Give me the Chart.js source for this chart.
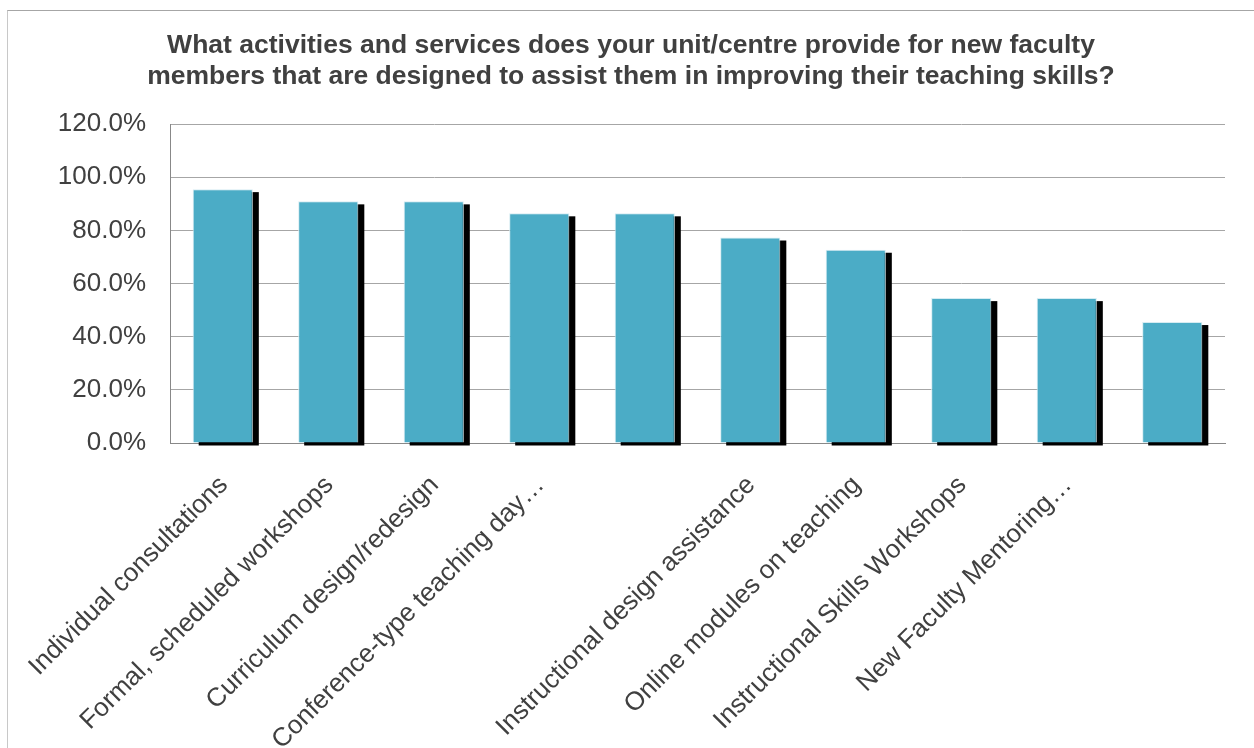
<!DOCTYPE html>
<html>
<head>
<meta charset="utf-8">
<script src="https://cdn.jsdelivr.net/npm/chart.js@4.4.1/dist/chart.umd.min.js"></script>
<style>
	html, body { margin: 0; padding: 0; background: #fff; }
	#frame { position: absolute; left: 7px; top: 10px; width: 1300px; height: 800px; border-top: 1px solid #a6a6a6; border-left: 1px solid #c8c8c8; }
	#wrap { position: absolute; left: 0; top: 0; width: 1254px; height: 748px; }
</style>
</head>
<body>
<div id="frame"></div>
<div id="wrap"><canvas id="activitiesChart"></canvas></div>
<script>
// categories as shown on the axis (two bars carry no visible label)
const categories = [
	'Individual consultations',
	'Formal, scheduled workshops',
	'Curriculum design/redesign',
	'Conference-type teaching day\u2026',
	'',
	'Instructional design assistance',
	'Online modules on teaching',
	'Instructional Skills Workshops',
	'New Faculty Mentoring\u2026',
	''
];
// share of units (%)
const percentages = [95.5, 90.9, 90.9, 86.4, 86.4, 77.3, 72.7, 54.5, 54.5, 45.5];
const yTicks = [0, 20, 40, 60, 80, 100, 120];
const titleLines = [
	'What activities and services does your unit/centre provide for new faculty',
	'members that are designed to assist them in improving their teaching skills?'
];

const FONT = '"Liberation Sans", Arial, sans-serif';

// black offset shadow behind every bar, as in the original
const barShadow = {
	id: 'barShadow',
	beforeDatasetsDraw(chart) {
		const ctx = chart.ctx;
		const meta = chart.getDatasetMeta(0);
		ctx.save();
		ctx.fillStyle = '#000';
		meta.data.forEach(bar => {
			const p = bar.getProps(['x', 'y', 'base', 'width'], true);
			ctx.fillRect(p.x - p.width / 2 + 6, p.y + 3, p.width, p.base - p.y);
		});
		ctx.restore();
	}
};

new Chart(document.getElementById('activitiesChart'), {
	type: 'bar',
	data: {
		labels: categories,
		datasets: [{
			data: percentages,
			backgroundColor: '#4BACC6',
			borderColor: '#d6ecf2',
			borderWidth: 1,
			categoryPercentage: 1,
			barPercentage: 0.57
		}]
	},
	options: {
		responsive: true,
		maintainAspectRatio: false,
		animation: false,
		layout: { padding: { left: 8, right: 0, top: 0, bottom: 0 } },
		plugins: {
			legend: { display: false },
			tooltip: { enabled: false },
			title: {
				display: true,
				text: titleLines,
				color: '#404040',
				font: { family: FONT, size: 26.5, weight: 'bold', lineHeight: '31px' },
				padding: { top: 30, bottom: 32 }
			}
		},
		scales: {
			y: {
				min: 0,
				max: 120,
				afterFit: s => { s.width = 162; },
				afterBuildTicks: s => { s.ticks = yTicks.map(v => ({ value: v })); },
				grid: { color: '#a6a6a6', drawTicks: false },
				border: { color: '#888', width: 1 },
				ticks: {
					padding: 24,
					color: '#404040',
					font: { family: FONT, size: 26 },
					callback: v => v.toFixed(1) + '%'
				}
			},
			// empty right-hand gutter so the plot stops short of the edge
			gutter: {
				position: 'right',
				afterFit: s => { s.width = 29; },
				grid: { display: false, drawTicks: false },
				border: { display: false },
				ticks: { display: false }
			},
			x: {
				afterFit: s => { s.height = 305; s.paddingLeft = 0; s.paddingRight = 0; },
				grid: { display: false, drawTicks: false },
				border: { display: true, color: '#888', width: 1 },
				ticks: {
					autoSkip: false,
					maxRotation: 45,
					minRotation: 45,
					padding: 27,
					labelOffset: 1,
					color: '#404040',
					font: { family: FONT, size: 26 }
				}
			}
		}
	},
	plugins: [barShadow]
});
</script>
</body>
</html>
